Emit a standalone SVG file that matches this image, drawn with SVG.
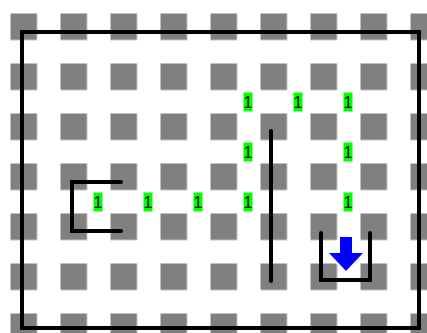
<svg xmlns="http://www.w3.org/2000/svg" width="427" height="333" viewBox="0 0 427 333">
  <defs>
    <style>
      .bg { fill: #ffffff; }
      .sq { fill: #808080; }
      .wall { fill: none; stroke: #000000; stroke-width: 4; stroke-linecap: round; stroke-linejoin: miter; }
      .lblbox { fill: #00ff00; }
      .lbl { font-family: "Liberation Sans", Arial, sans-serif; font-size: 16px; fill: #000000; text-anchor: middle; }
      .arrow { fill: #0000ff; stroke: #ffffff; stroke-width: 4; paint-order: stroke; stroke-linejoin: miter; }
    </style>
    <pattern id="grid" x="10.5" y="13.5" width="50" height="50" patternUnits="userSpaceOnUse">
      <rect class="sq" x="0" y="0" width="26.5" height="26.5"/>
    </pattern>
  </defs>
  <rect class="bg" x="0" y="0" width="427" height="333"/>
  <g id="grid-squares">
    <rect x="0" y="0" width="427" height="333" fill="url(#grid)"/>
  </g>
  <g id="connectors">
    <rect class="wall" x="22" y="32" width="397" height="296" stroke-linecap="butt"/>
    <path class="wall" d="M121,182 H72 V231 H121"/>
    <path class="wall" d="M271,131 V281"/>
    <path class="wall" d="M321,233 V280 H370 V233"/>
  </g>
  <g id="goal-arrow">
    <path class="arrow" d="M340,237 H352 V253 H363 L346,271 L329,253 H340 Z"/>
  </g>
  <g id="labels">
    <g id="l1"><rect class="lblbox" x="243.5" y="92.5" width="9" height="19"/><text class="lbl" x="248" y="108">1</text></g>
    <g id="l2"><rect class="lblbox" x="293.5" y="92.5" width="9" height="19"/><text class="lbl" x="298" y="108">1</text></g>
    <g id="l3"><rect class="lblbox" x="343.5" y="92.5" width="9" height="19"/><text class="lbl" x="348" y="108">1</text></g>
    <g id="l4"><rect class="lblbox" x="243.5" y="142.5" width="9" height="19"/><text class="lbl" x="248" y="158">1</text></g>
    <g id="l5"><rect class="lblbox" x="343.5" y="142.5" width="9" height="19"/><text class="lbl" x="348" y="158">1</text></g>
    <g id="l6"><rect class="lblbox" x="93.5" y="192.5" width="9" height="19"/><text class="lbl" x="98" y="208">1</text></g>
    <g id="l7"><rect class="lblbox" x="143.5" y="192.5" width="9" height="19"/><text class="lbl" x="148" y="208">1</text></g>
    <g id="l8"><rect class="lblbox" x="193.5" y="192.5" width="9" height="19"/><text class="lbl" x="198" y="208">1</text></g>
    <g id="l9"><rect class="lblbox" x="243.5" y="192.5" width="9" height="19"/><text class="lbl" x="248" y="208">1</text></g>
    <g id="l10"><rect class="lblbox" x="343.5" y="192.5" width="9" height="19"/><text class="lbl" x="348" y="208">1</text></g>
  </g>
</svg>
